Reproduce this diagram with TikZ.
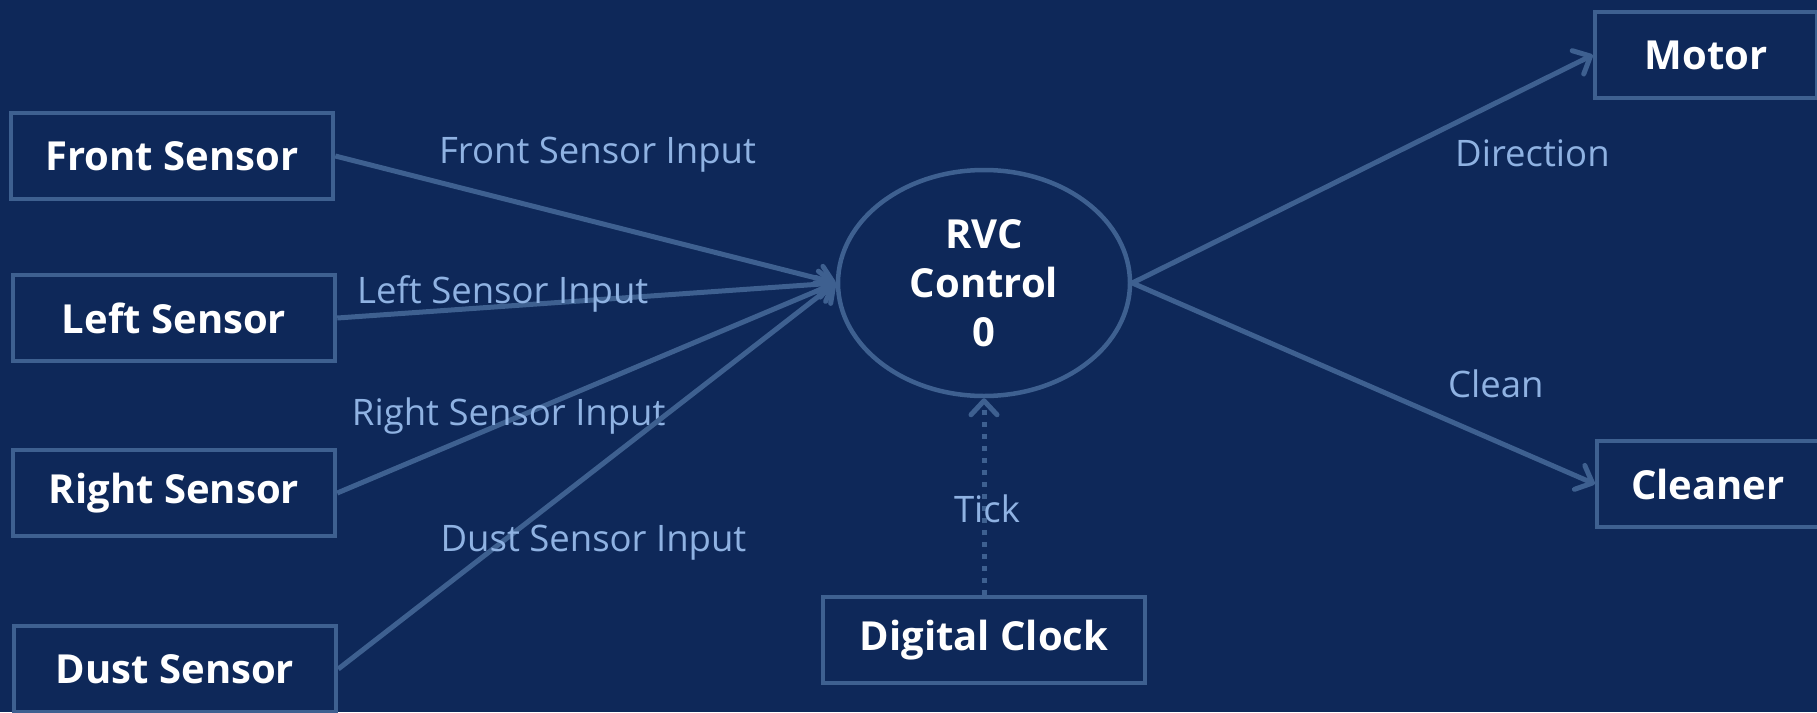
\documentclass[tikz,border=0pt]{standalone}
\usepackage{fontspec}
\setmainfont{Open Sans}
\usepackage{tikz}
\usetikzlibrary{arrows.meta,shapes.geometric}

\definecolor{bgnavy}{RGB}{14,40,89}
\definecolor{flowline}{RGB}{62,96,144}
\definecolor{flowtext}{RGB}{143,178,226}

\begin{document}
\begin{tikzpicture}[x=1pt,y=-1pt,>={Straight Barb[length=14pt,width=26pt,round]},
 entity/.style={rectangle,draw=flowline,line width=4.5pt,minimum width=322pt,minimum height=86pt,inner sep=0pt,text=white,font=\fontsize{40}{48}\selectfont\bfseries},
 sink/.style={entity,minimum width=222pt},
 process/.style={ellipse,draw=flowline,line width=4.5pt,minimum width=292pt,minimum height=226pt,inner sep=0pt,text=white,align=center,font=\fontsize{40}{49}\selectfont\bfseries},
 flow/.style={draw=flowline,line width=5pt,->},
 tag/.style={text=flowtext,font=\fontsize{36.5}{42}\selectfont,inner sep=0pt}, ]

 \useasboundingbox[fill=bgnavy] (0,0) rectangle (1817,712);

 % sources
 \node[entity] (front) at (172,156) {Front Sensor};
 \node[entity] (left) at (174,318) {Left Sensor};
 \node[entity] (right) at (174,493) {Right Sensor};
 \node[entity] (dust) at (175,669) {Dust Sensor};
 \node[entity] (clock) at (984,640) {Digital Clock};

 \node[process] (rvc) at (984,283) {RVC\\Control\\0};

 % sinks
 \node[sink] (motor) at (1706,55) {Motor};
 \node[sink] (cleaner) at (1708,484) {Cleaner};

 \draw[flow] (front.east) -- node[tag, pos=0.524, yshift=68pt] {Front Sensor Input} (rvc.west);
 \draw[flow] (left.east) -- node[tag, pos=0.332, yshift=12pt] {Left Sensor Input} (rvc.west);
 \draw[flow] (right.east) -- node[tag, pos=0.344, yshift=5pt] {Right Sensor Input} (rvc.west);
 \draw[flow] (dust.east) -- node[tag, pos=0.513, yshift=-72pt] {Dust Sensor Input} (rvc.west);
 \draw[flow] (rvc.east) -- node[tag, pos=0.869, yshift=-68pt] {Direction} (motor.west);
 \draw[flow] (rvc.east) -- node[tag, pos=0.786, yshift=57pt] {Clean} (cleaner.west);
 \draw[flow, dash pattern=on 5pt off 7pt] (clock.north) -- node[tag, pos=0.435, xshift=3pt] {Tick} (rvc.south);

\end{tikzpicture}
\end{document}
